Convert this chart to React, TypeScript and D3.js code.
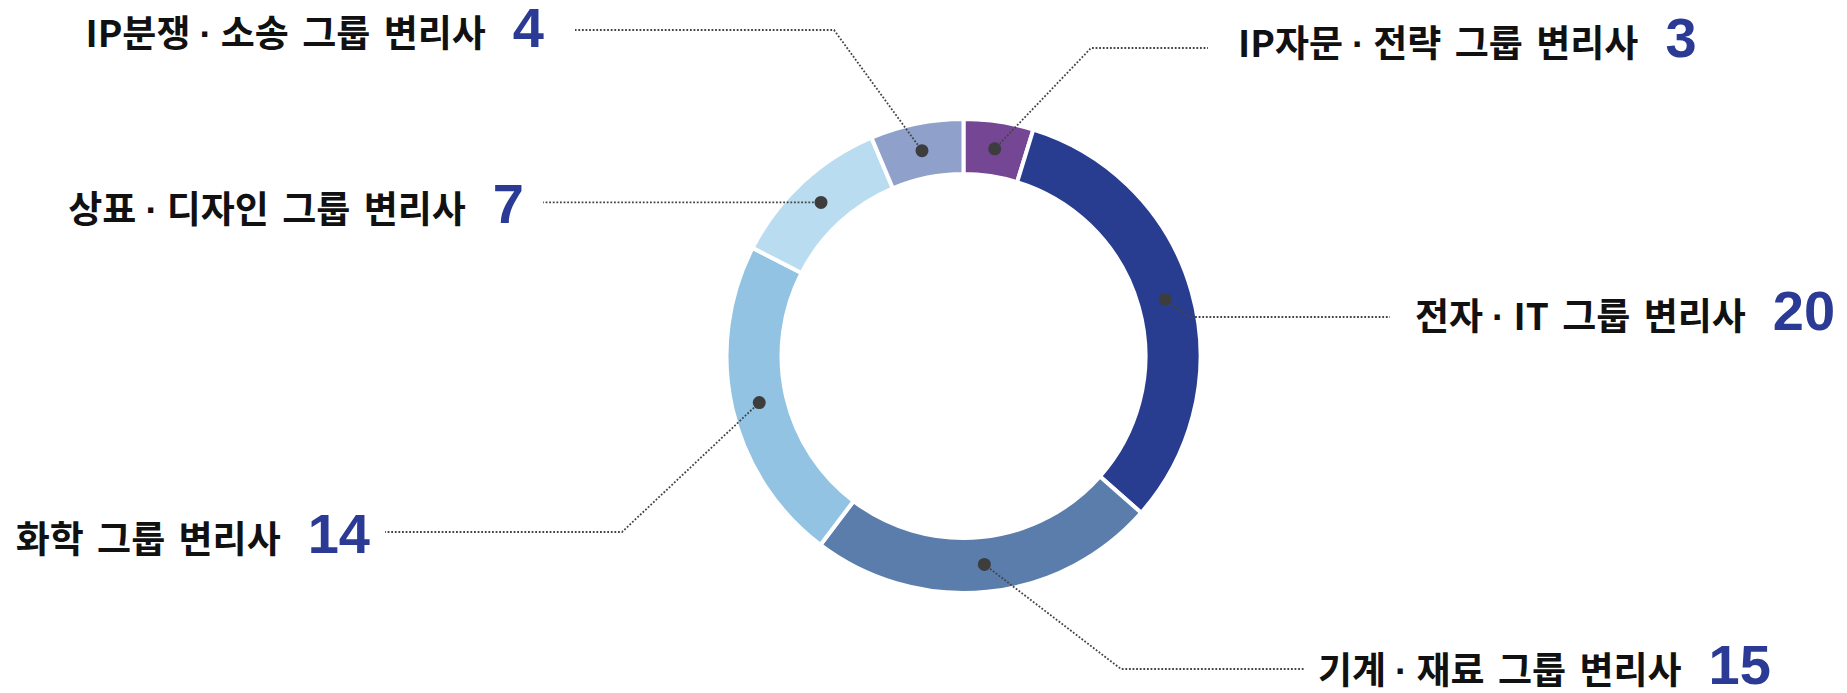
import { useEffect, useRef } from 'react';
import * as d3 from 'd3';

// slices, clockwise from 12 o'clock
const categories = [
  'IP자문 · 전략 그룹 변리사',
  '전자 · IT 그룹 변리사',
  '기계 · 재료 그룹 변리사',
  '화학 그룹 변리사',
  '상표 · 디자인 그룹 변리사',
  'IP분쟁 · 소송 그룹 변리사',
];
const values = [3, 20, 15, 14, 7, 4];
const colors = ['#744694', '#293d90', '#5b7dab', '#92c3e3', '#b9dcf0', '#8fa1cb'];

// where each callout goes (elbow of the leader, end of the leader, text anchor)
const labelLayout = [
  { side: 'right', elbow: [1091, 48], lineEnd: 1208, x: 1238, y: 57 },
  { side: 'right', elbow: [1188, 317], lineEnd: 1390, x: 1415, y: 330 },
  { side: 'right', elbow: [1121, 669], lineEnd: 1304, x: 1318, y: 684 },
  { side: 'left', elbow: [622, 532], lineEnd: 385, x: 368, y: 553 },
  { side: 'left', elbow: null, lineEnd: 543, x: 522, y: 223 },
  { side: 'left', elbow: [834, 30], lineEnd: 575, x: 542, y: 47 },
];

const App = () => {
  const svgRef = useRef<SVGSVGElement>(null);
  const width = 1847;
  const height = 693;
  const cx = 963.5;
  const cy = 356;
  const outerR = 237;
  const innerR = 182;
  const gap = 27;

  useEffect(() => {
    if (!svgRef.current) return;
    const svg = d3.select(svgRef.current);
    svg.selectAll('*').remove();

    const data = categories.map((name, i) => ({ name, value: values[i], color: colors[i] }));

    const pie = d3.pie<any>()
      .sort(null)
      .value(d => d.value)
      .startAngle(0)
      .endAngle(2 * Math.PI);

    const arc = d3.arc<any>()
      .innerRadius(innerR)
      .outerRadius(outerR);

    const arcs = pie(data);

    const g = svg.append('g')
      .attr('transform', `translate(${cx},${cy})`);

    g.selectAll('path.slice')
      .data(arcs)
      .enter()
      .append('path')
      .attr('class', 'slice')
      .attr('d', arc)
      .attr('fill', d => d.data.color)
      .attr('stroke', '#fff')
      .attr('stroke-width', 4);

    // leader lines
    const lines = svg.append('g');
    arcs.forEach((d, i) => {
      const [dx, dy] = arc.centroid(d);
      const px = cx + dx;
      const py = cy + dy;
      const lay = labelLayout[i];
      const pts: [number, number][] = [[px, py]];
      if (lay.elbow) {
        pts.push([lay.elbow[0], lay.elbow[1]]);
        pts.push([lay.lineEnd, lay.elbow[1]]);
      } else {
        pts.push([lay.lineEnd, py]);
      }
      lines.append('path')
        .attr('d', d3.line()(pts))
        .attr('fill', 'none')
        .attr('stroke', '#444')
        .attr('stroke-width', 1.8)
        .attr('stroke-dasharray', '1.8,1.8');
    });

    // dots
    svg.append('g')
      .selectAll('circle')
      .data(arcs)
      .enter()
      .append('circle')
      .attr('cx', d => cx + arc.centroid(d)[0])
      .attr('cy', d => cy + arc.centroid(d)[1])
      .attr('r', 6.5)
      .attr('fill', '#3d3d3d');

    // labels: name (black) + count (blue)
    arcs.forEach((d, i) => {
      const lay = labelLayout[i];
      const label = svg.append('text')
        .style('font-family', '"Noto Sans CJK KR", sans-serif')
        .style('font-weight', 700)
        .style('font-size', '37px')
        .attr('fill', '#111');
      const parts = d.data.name.split(' · ');
      parts.forEach((p: string, k: number) => {
        if (k > 0) {
          label.append('tspan')
            .attr('dx', 9)
            .style('font-family', '"Liberation Sans", Arial, sans-serif')
            .text('·');
        }
        label.append('tspan')
          .attr('dx', k > 0 ? 9 : 0)
          .style('word-spacing', '5px')
          .text(p);
      });
      const lw = (label.node() as SVGTextElement).getBBox().width;

      const num = svg.append('text')
        .style('font-family', '"Liberation Sans", Arial, sans-serif')
        .style('font-weight', 700)
        .style('font-size', '56px')
        .attr('fill', '#2b3a94')
        .text(String(d.data.value));
      const numW = (num.node() as SVGTextElement).getComputedTextLength();

      let labelX: number;
      let numX: number;
      if (lay.side === 'right') {
        labelX = lay.x;
        numX = lay.x + lw + gap;
      } else {
        numX = lay.x + 2 - numW;
        labelX = numX - gap - lw;
      }
      label.attr('x', labelX).attr('y', lay.y);
      num.attr('x', numX).attr('y', lay.y);
    });
  }, []);

  return (
    <svg
      ref={svgRef}
      width={width}
      height={height}
      style={{ position: 'absolute', left: 0, top: 0, background: '#fff' }}
    />
  );
};

export default App;
